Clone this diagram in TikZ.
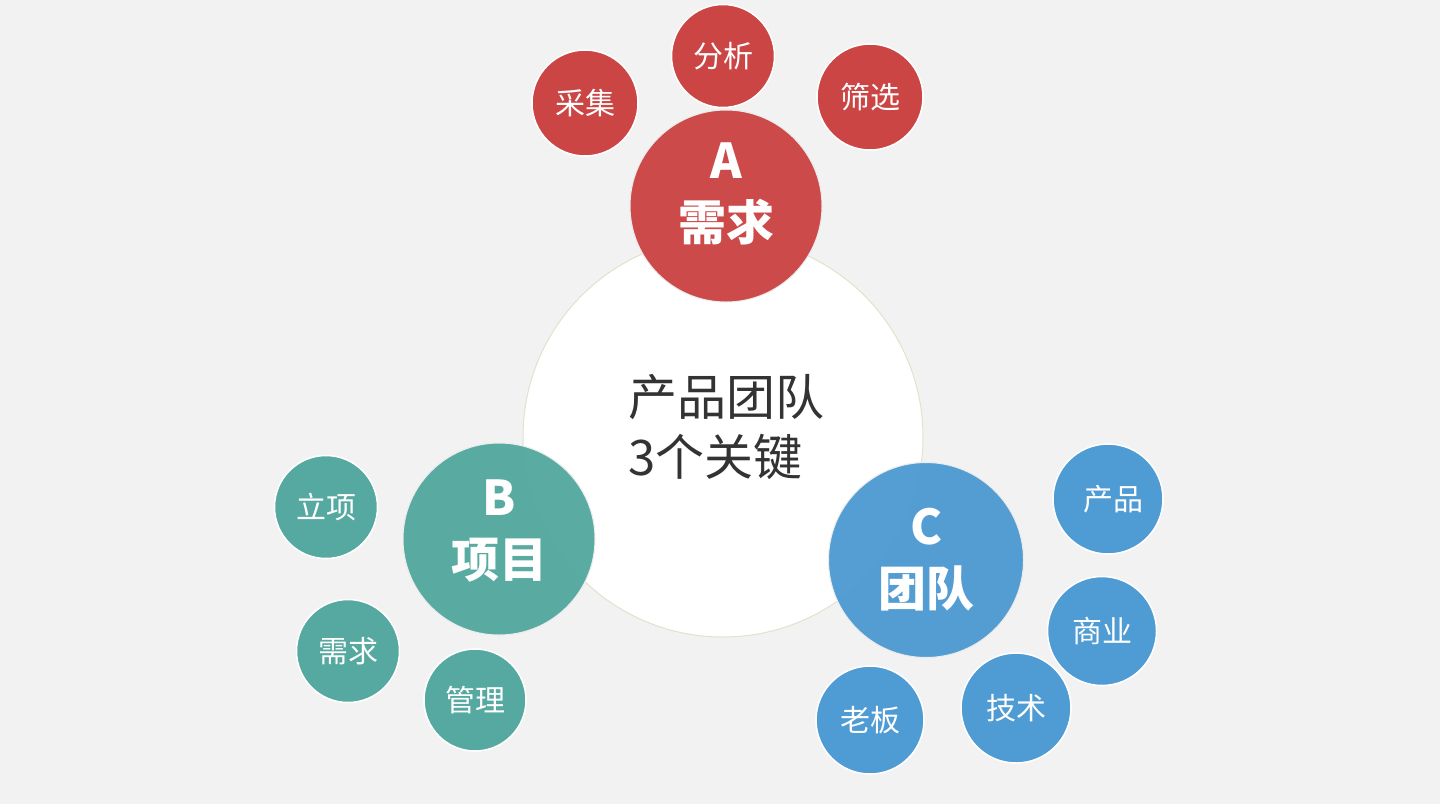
\documentclass[tikz,border=0pt]{standalone}
\usepackage{fontspec}
\setmainfont{Noto Sans CJK SC}
\definecolor{bg}{HTML}{F2F2F2}
\definecolor{cred}{HTML}{CC4545}
\definecolor{cteal}{HTML}{55A9A0}
\definecolor{cblue}{HTML}{4F9BD3}
\definecolor{ctext}{HTML}{333333}
\definecolor{cring}{HTML}{E2E2CC}
\tikzset{
  bigc/.style={circle, inner sep=0pt, minimum size=#1, draw=white!85!gray, line width=1pt, fill opacity=0.97},
  bigtext/.style={text=white, align=center, inner sep=0pt, font=\bfseries\fontsize{48}{62}\selectfont},
  smallc/.style={circle, inner sep=0pt, minimum size=#1, draw=white, line width=1.5pt, text=white, font=\fontsize{30}{36}\selectfont},
  centerc/.style={circle, inner sep=0pt, minimum size=400pt, fill=white, draw=cring, line width=1pt},
}
\begin{document}
\begin{tikzpicture}[x=1pt,y=-1pt]
\fill[bg] (0,0) rectangle (1440,804);
\useasboundingbox (0,0) rectangle (1440,804);
% center
\node[centerc] (center) at (723,437) {};
\node[align=left, text=ctext, font=\fontsize{49}{60}\selectfont, anchor=west] (ctxt) at (625,427) {产品团队\\3个关键};
% A
\node[bigc=192pt, fill=cred] (A) at (726,206) {};
\node[bigtext] (At) at ([yshift=12pt]A.center) {A\\需求};
\node[smallc=106pt, fill=cred] (a1) at (585,103) {采集};
\node[smallc=103pt, fill=cred] (a2) at (723,56) {分析};
\node[smallc=106pt, fill=cred] (a3) at (870,97) {筛选};
% B
\node[bigc=192pt, fill=cteal] (B) at (499,539) {};
\node[bigtext] (Bt) at ([yshift=8pt]B.center) {B\\项目};
\node[smallc=103pt, fill=cteal] (b1) at (326,507) {立项};
\node[smallc=103pt, fill=cteal] (b2) at (348,651) {需求};
\node[smallc=102pt, fill=cteal] (b3) at (475,700) {管理};
% C
\node[bigc=195pt, fill=cblue] (C) at (926,560) {};
\node[bigtext] (Ct) at ([yshift=0pt]C.center) {C\\团队};
\node[smallc=110pt, fill=cblue] (c1) at (1108,499) {\hspace{10pt}产品};
\node[smallc=109pt, fill=cblue] (c2) at (1102,631) {商业};
\node[smallc=110pt, fill=cblue] (c3) at (1016,708) {技术};
\node[smallc=108pt, fill=cblue] (c4) at (870,720) {老板};
\end{tikzpicture}
\end{document}
